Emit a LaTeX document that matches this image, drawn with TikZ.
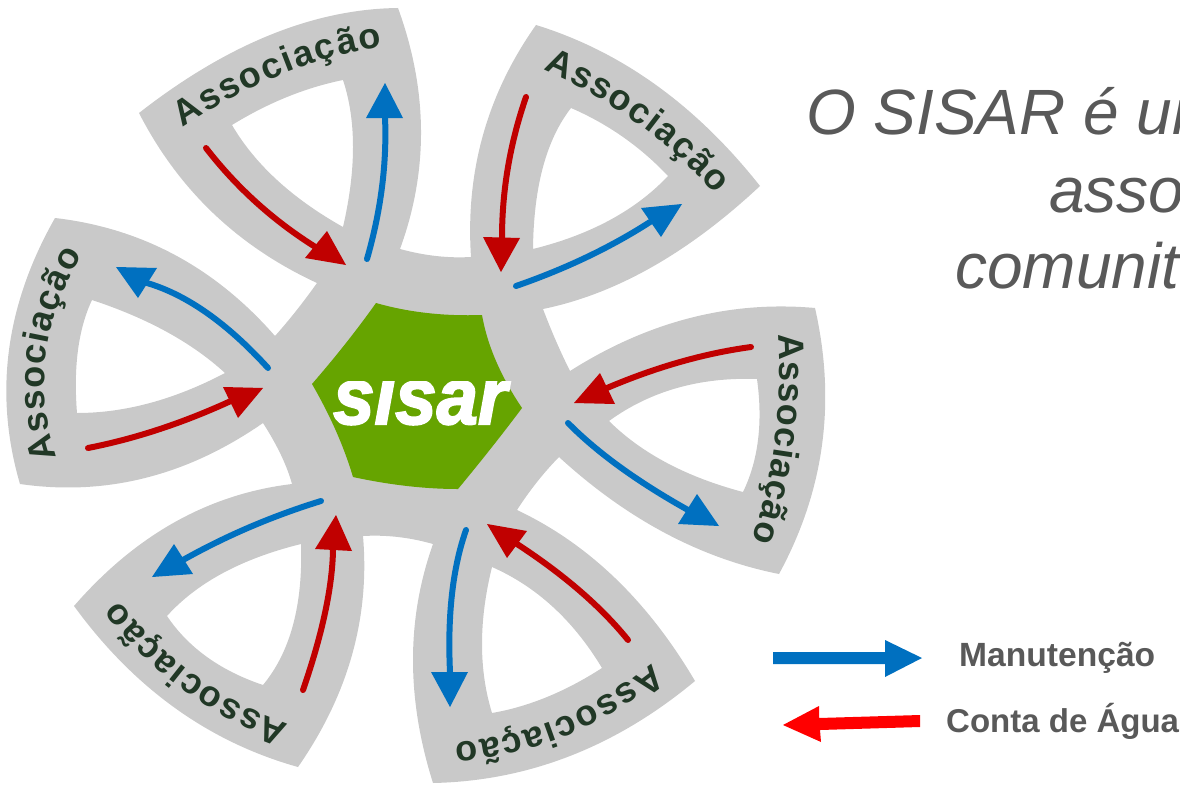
\documentclass[tikz,border=0pt]{standalone}
\usepackage{fontspec}
\setmainfont{Liberation Sans}
\newfontfamily\logofont[FakeBold=2.5]{Liberation Sans Bold Italic}
\usetikzlibrary{calc,decorations.text}
\definecolor{petalgray}{RGB}{201,201,201}
\definecolor{hexgreen}{RGB}{102,164,0}
\definecolor{flowred}{RGB}{192,0,0}
\definecolor{flowblue}{RGB}{0,112,192}
\definecolor{legendred}{RGB}{255,0,0}
\definecolor{labelgreen}{RGB}{33,56,38}
\definecolor{textgray}{RGB}{89,89,89}
\tikzset{
  thru/.style args={#1,#2}{to path={.. controls ($1.3333*(#1,#2)-0.3333*(\tikztotarget)$) and ($1.3333*(#1,#2)-0.3333*(\tikztostart)$) .. (\tikztotarget)}},
  flowline/.style={line width=6pt,line cap=round},
  assoc/.style={decorate,decoration={text along path,text align={fit to path},
     text={|\fontsize{36}{36}\selectfont\bfseries\color{labelgreen}|Associação}}},
  titletext/.style={anchor=base west,inner sep=0pt,text=textgray,font=\fontsize{64}{64}\selectfont\itshape},
  legendtext/.style={anchor=base west,inner sep=0pt,text=textgray,font=\fontsize{33}{33}\selectfont\bfseries},
}
\newcommand\flowarrow[7]{%
  \draw[flowline,#1] (#2) to[thru={#3}] (#4);
  \fill[#1] (#5) -- (#6) -- (#7) -- cycle;
}
\begin{document}
\begin{tikzpicture}[x=1pt,y=-1pt]
\useasboundingbox (0,0) rectangle (1180,784);
\clip (0,0) rectangle (1180,784);
% gray silhouette with the six holes
\fill[petalgray,even odd rule]
  (139,113) to[thru={270,35}] (398,8) to[thru={421,130}] (400,249) to[thru={436,256}] (471,257)
  to[thru={483,135}] (536,25) to[thru={656,85}] (760,186) to[thru={652,267}] (543,309)
  to[thru={556,341}] (570,371) to[thru={690,318}] (815,308) to[thru={822,445}] (779,574)
  to[thru={665,533}] (559,457) to[thru={537,482}] (517,510) to[thru={615,578}] (695,681)
  to[thru={570,756}] (433,783) to[thru={413,660}] (433,544) to[thru={398,537}] (363,536)
  to[thru={352,655}] (298,767) to[thru={175,708}] (74,606) to[thru={175,522}] (292,484)
  to[thru={281,455}] (263,423) to[thru={145,478}] (20,484) to[thru={9,350}] (55,218)
  to[thru={175,255}] (275,336) to[thru={296,311}] (317,283) to[thru={213,213}] (139,113) -- cycle
  (232,125) to[thru={287,97}] (343,80) to[thru={353,147}] (343,227) to[thru={277,180}] (232,125) -- cycle
  (571,108) to[thru={623,137}] (668,176) to[thru={610,220}] (533,249) to[thru={543,167}] (571,108) -- cycle
  (609,421) to[thru={677,388}] (757,379) to[thru={758,440}] (743,492) to[thru={667,463}] (609,421) -- cycle
  (492,567) to[thru={553,607}] (602,668) to[thru={547,697}] (492,713) to[thru={482,644}] (492,567) -- cycle
  (301,544) to[thru={223,573}] (167,616) to[thru={207,657}] (263,685) to[thru={293,625}] (301,544) -- cycle
  (92,300) to[thru={167,332}] (225,373) to[thru={150,403}] (77,413) to[thru={78,350}] (92,300) -- cycle;
% green centre
\fill[hexgreen] (376,303) to[thru={427,313}] (482,315) to[thru={496,361}] (522,408)
  to[thru={492,447}] (458,489) to[thru={407,486}] (353,477) to[thru={336,431}] (312,384)
  to[thru={346,343}] (376,303) -- cycle;
\begin{scope}
  \clip (300,381) rectangle (540,425);
  \node[anchor=base west,inner sep=0pt,text=white,xscale=.93,font=\logofont\fontsize{80}{80}\selectfont] (logo) at (333,424) {sisar};
\end{scope}
% petal labels
\path[assoc] (183,128) to[thru={283,74}] (382,47);
\path[assoc] (543,70) to[thru={635,122}] (716,194);
\path[assoc] (778,335) to[thru={775,440}] (752,540);
\path[assoc] (652,663) to[thru={560,718}] (455,743);
\path[assoc] (289,724) to[thru={195,675}] (119,600);
\path[assoc] (57,457) to[thru={46,355}] (83,255);
% flows
\flowarrow{flowred}{206,148}{257,203}{317,248}{346,265}{327,231}{305,258}
\flowarrow{flowblue}{367,259}{382,187}{385,117}{385,83}{366,118}{403,118}
\flowarrow{flowblue}{268,368}{207,313}{147,283}{116,267}{157,268}{138,298}
\flowarrow{flowred}{88,448}{160,429}{233,400}{263,388}{223,387}{238,418}
\flowarrow{flowblue}{321,501}{250,527}{183,560}{152,577}{174,544}{193,574}
\flowarrow{flowred}{303,690}{325,613}{333,550}{336,515}{315,549}{352,551}
\flowarrow{flowblue}{466,530}{452,594}{450,672}{450,707}{431,672}{468,672}
\flowarrow{flowred}{628,640}{580,591}{517,544}{487,524}{527,531}{507,558}
\flowarrow{flowred}{751,347}{680,362}{607,388}{574,403}{600,373}{615,404}
\flowarrow{flowblue}{568,423}{620,467}{688,510}{719,526}{697,494}{678,524}
\flowarrow{flowred}{526,97}{508,167}{502,238}{501,272}{483,237}{520,238}
\flowarrow{flowblue}{516,286}{587,257}{650,222}{682,204}{641,208}{661,237}
% title
\node[titletext] (t1) at (806,134) {O SISAR é um};
\node[titletext] (t2) at (1049,212) {asso};
\node[titletext] (t3) at (955,288) {comunit};
% legend
\fill[flowblue] (773,652) -- (885,652) -- (885,640) -- (922,658) -- (885,677) -- (885,664) -- (773,664) -- cycle;
\fill[legendred] (920,715) -- (819,718) -- (819,706) -- (783,725) -- (821,742) -- (820,730) -- (920,727) -- cycle;
\node[legendtext,font=\fontsize{33.6}{33.6}\selectfont\bfseries] (l1) at (959,666) {Manutenção};
\node[legendtext] (l2) at (946,732) {Conta de Água};
\end{tikzpicture}
\end{document}
